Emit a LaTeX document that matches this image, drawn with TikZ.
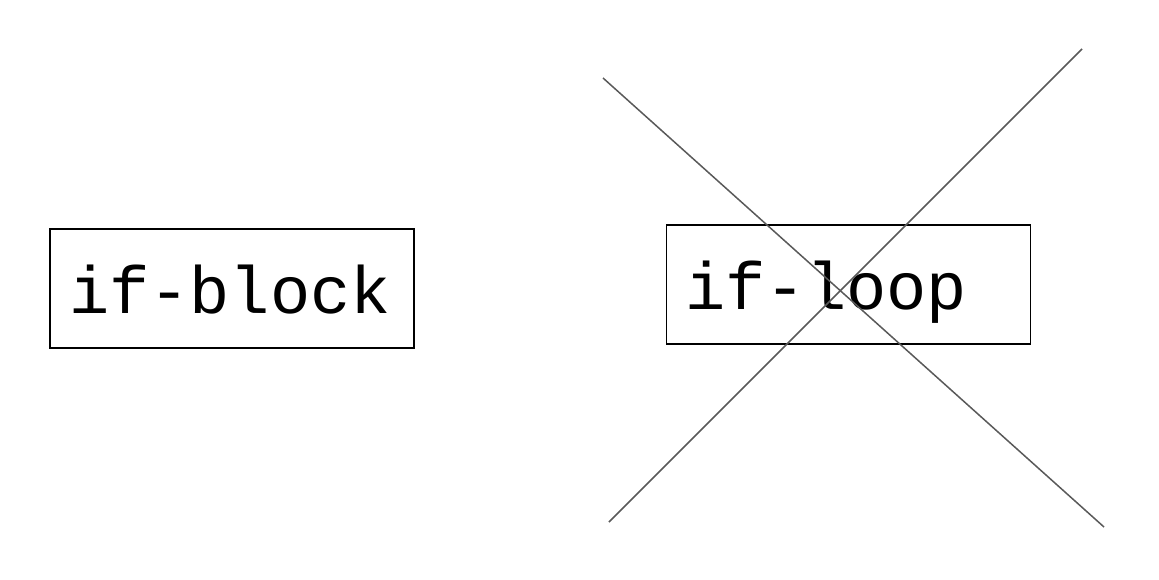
\documentclass[tikz,border=0pt]{standalone}
\usepackage{fontspec}
\setmonofont{Liberation Mono}
\begin{document}
\begin{tikzpicture}[x=1pt, y=-1pt,
	codebox/.style={draw=black, line width=1.5pt, minimum width=364pt, minimum height=119pt, text width=326pt, inner xsep=19pt, align=left, font=\fontsize{67}{67}\selectfont\ttfamily, text height=49pt, text depth=0pt},
	cross line/.style={draw=black!65, line width=1.5pt}]
	\useasboundingbox (0,0) rectangle (1159,579);

	% if-block
	\node[codebox] (block) at (232,288.5) {if-block};

	% if-loop
	\node[codebox] (loop) at (848.5,284.5) {if-loop};

	% cross
	\coordinate (tl) at (603,78);
	\coordinate (br) at (1104,527);
	\coordinate (tr) at (1082,49);
	\coordinate (bl) at (609,522);
	\draw[cross line] (tl) -- (br);
	\draw[cross line] (tr) -- (bl);
\end{tikzpicture}
\end{document}
